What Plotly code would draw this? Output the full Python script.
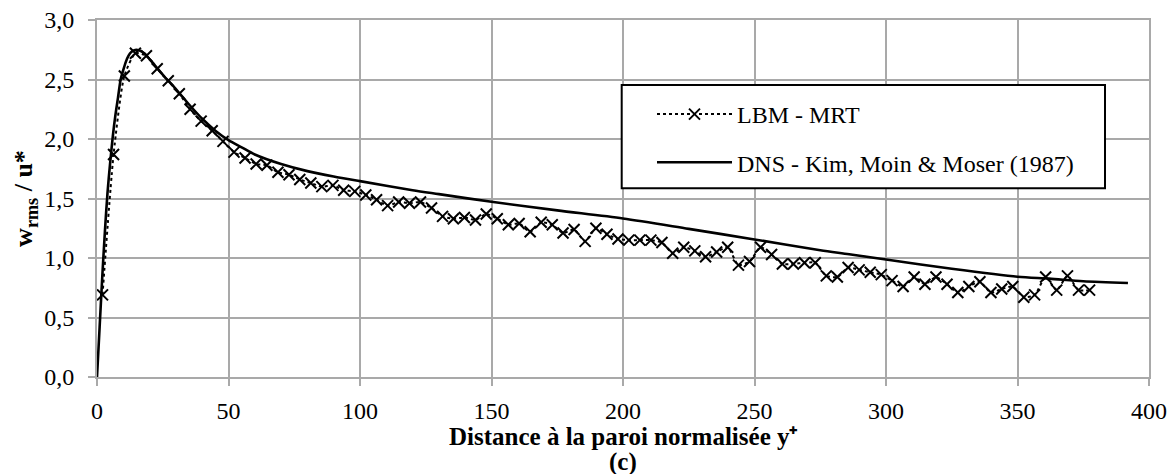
import plotly.graph_objects as go

# LBM - MRT samples (y+, w_rms/u*)
lbm_x = [2.1, 6.3, 10.4, 14.6, 18.8, 22.9, 27.1, 31.3, 35.4, 39.6,
         43.8, 47.9, 52.1, 56.3, 60.5, 64.6, 68.8, 73.0, 77.1, 81.3,
         85.5, 89.7, 93.8, 98.0, 102.2, 106.3, 110.5, 114.7, 118.8, 123.0,
         127.2, 131.4, 135.5, 139.7, 143.9, 148.0, 152.2, 156.4, 160.5, 164.7,
         168.9, 173.1, 177.2, 181.4, 185.6, 189.7, 193.9, 198.1, 202.2, 206.4,
         210.6, 214.8, 218.9, 223.1, 227.3, 231.4, 235.6, 239.8, 243.9, 248.1,
         252.3, 256.5, 260.6, 264.8, 269.0, 273.1, 277.3, 281.5, 285.6, 289.8,
         294.0, 298.2, 302.3, 306.5, 310.7, 314.8, 319.0, 323.2, 327.3, 331.5,
         335.7, 339.9, 344.0, 348.2, 352.4, 356.5, 360.7, 364.9, 369.0, 373.2,
         377.4]
lbm_y = [0.69, 1.87, 2.53, 2.72, 2.70, 2.59, 2.49, 2.38, 2.25, 2.15,
         2.07, 1.98, 1.89, 1.84, 1.79, 1.78, 1.72, 1.70, 1.66, 1.63,
         1.60, 1.61, 1.57, 1.56, 1.53, 1.49, 1.44, 1.47, 1.46, 1.47,
         1.42, 1.35, 1.33, 1.34, 1.32, 1.37, 1.33, 1.28, 1.29, 1.22,
         1.30, 1.28, 1.21, 1.24, 1.14, 1.25, 1.20, 1.16, 1.15, 1.15,
         1.15, 1.13, 1.04, 1.09, 1.06, 1.01, 1.05, 1.09, 0.94, 0.97,
         1.09, 1.03, 0.95, 0.95, 0.96, 0.96, 0.85, 0.84, 0.92, 0.90,
         0.88, 0.86, 0.81, 0.76, 0.84, 0.78, 0.84, 0.78, 0.71, 0.76,
         0.80, 0.71, 0.74, 0.76, 0.67, 0.69, 0.84, 0.73, 0.85, 0.73,
         0.73]

# DNS - Kim, Moin & Moser (1987)
dns_x = [0, 1, 2, 3, 4, 5, 6, 7, 8, 9, 10, 11, 12, 13, 14, 15, 16, 18, 20,
         22, 25, 30, 35, 40, 45, 50, 55, 60, 70, 80, 90, 100, 120, 130, 150,
         175, 200, 225, 250, 275, 286, 300, 325, 350, 362, 375, 392]
dns_y = [0.0, 0.42, 0.84, 1.22, 1.55, 1.80, 2.02, 2.20, 2.35, 2.50, 2.58,
         2.65, 2.70, 2.73, 2.745, 2.75, 2.745, 2.72, 2.67, 2.62, 2.54, 2.42,
         2.29, 2.17, 2.07, 1.99, 1.93, 1.87, 1.79, 1.73, 1.685, 1.646, 1.57,
         1.537, 1.472, 1.40, 1.332, 1.245, 1.156, 1.065, 1.032, 0.987, 0.91,
         0.843, 0.827, 0.805, 0.79]

x_ticks = [0, 50, 100, 150, 200, 250, 300, 350, 400]
y_ticks = [0.0, 0.5, 1.0, 1.5, 2.0, 2.5, 3.0]

FONT = "Liberation Serif"
GRID = "#a9a9a9"

fig = go.Figure()
fig.add_trace(go.Scatter(
    x=lbm_x, y=lbm_y, name="LBM - MRT", mode="lines+markers",
    legendgroup="a",
    line=dict(color="black", width=2, dash="dot", shape="spline", smoothing=0.6),
    marker=dict(symbol="x-thin-open", size=11, color="black",
                line=dict(color="black", width=2)),
))
fig.add_trace(go.Scatter(
    x=dns_x, y=dns_y, name="DNS - Kim, Moin & Moser (1987)", mode="lines",
    legendgroup="b",
    line=dict(color="black", width=2.6, shape="spline", smoothing=0.8),
))

pw = 1052.0
ph = 357.0
fig.add_shape(type="rect", xref="paper", yref="paper",
              x0=(621.7 - 97) / pw, x1=(1105 - 97) / pw,
              y0=(377 - 188.3) / ph, y1=(377 - 85) / ph,
              line=dict(color="black", width=2), fillcolor="white", layer="above")

fig.add_annotation(xref="paper", yref="paper", x=0.5, y=(377 - 436) / ph,
                   xanchor="center", yanchor="middle", showarrow=False,
                   text="<b>Distance à la paroi normalisée y⁺</b>",
                   font=dict(family=FONT, size=25, color="black"))
fig.add_annotation(xref="paper", yref="paper", x=0.5, y=(377 - 462) / ph,
                   xanchor="center", yanchor="middle", showarrow=False,
                   text="<b>(c)</b>",
                   font=dict(family=FONT, size=25, color="black"))

fig.update_layout(
    width=1172, height=474,
    margin=dict(l=97, r=23, t=20, b=97),
    paper_bgcolor="white", plot_bgcolor="white",
    separators=", ",
    font=dict(family=FONT, size=24, color="black"),
    showlegend=True,
    legend=dict(
        x=(652 - 97) / pw, y=(377 - 92) / ph, xanchor="left", yanchor="top",
        bgcolor="rgba(0,0,0,0)", borderwidth=0,
        font=dict(family=FONT, size=24, color="black"),
        itemwidth=75, traceorder="grouped", tracegroupgap=14,
    ),
    xaxis=dict(
        range=[0, 400], tickvals=x_ticks, ticktext=[str(v) for v in x_ticks],
        showgrid=True, gridcolor=GRID, gridwidth=1.8,
        showline=True, mirror=True, linecolor=GRID, linewidth=1.8,
        ticks="outside", ticklen=7, tickcolor=GRID, tickwidth=1.8,
        tickfont=dict(family=FONT, size=24), ticklabelstandoff=4,
        zeroline=False, automargin=False,
    ),
    yaxis=dict(
        range=[0, 3], tickvals=y_ticks, tickformat=".1f",
        showgrid=True, gridcolor=GRID, gridwidth=1.8,
        showline=True, mirror=True, linecolor=GRID, linewidth=1.8,
        ticks="outside", ticklen=7, tickcolor=GRID, tickwidth=1.8,
        tickfont=dict(family=FONT, size=24), ticklabelstandoff=9,
        zeroline=False, automargin=False,
        title=dict(text="<b>w<sub>rms</sub> / u*</b>",
                   font=dict(family=FONT, size=26), standoff=4),
    ),
)

fig.write_html("out.html")
